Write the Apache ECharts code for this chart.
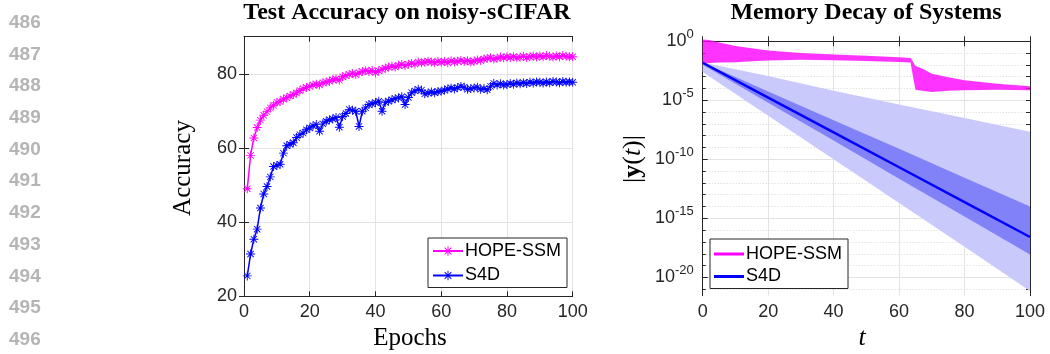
<!DOCTYPE html>
<html><head><meta charset="utf-8">
<script src="https://cdn.jsdelivr.net/npm/echarts@6/dist/echarts.min.js"></script>
<style>html,body{margin:0;padding:0;background:#fff}#c{width:1050px;height:354px}</style>
</head><body><div id="c"></div>
<script>
// ---------- data ----------
const epochs = Array.from({length: 100}, (_, i) => i + 1);
const hopeAcc = [49.0,58.0,62.7,65.5,67.5,68.8,69.8,70.8,71.5,72.3,
72.5,73.2,73.5,74.0,74.4,74.8,75.5,76.0,76.3,76.6,
77.0,77.2,77.0,77.6,77.8,78.0,78.4,78.6,78.3,79.2,
79.5,79.8,80.1,79.8,80.3,80.6,80.8,80.6,80.9,80.3,
80.8,81.2,81.5,81.8,82.0,81.8,82.3,82.5,82.2,82.6,
82.8,82.6,83.2,83.0,83.1,83.4,83.2,83.0,83.3,83.1,
83.3,83.0,83.5,83.2,83.4,83.6,83.3,83.5,83.2,83.4,
83.7,83.6,84.0,84.1,84.3,84.0,84.2,84.5,84.3,84.6,
84.4,84.6,84.3,84.5,84.7,84.4,84.6,84.8,84.5,84.8,
84.6,84.9,84.7,84.5,84.8,84.6,84.9,84.7,84.6,84.6];
const s4dAcc = [25.5,31.4,35.4,38.1,43.8,47.6,49.6,52.2,55.0,55.3,
55.6,58.6,60.6,61.0,61.4,62.8,63.6,64.0,64.9,65.4,
66.0,66.3,64.5,66.5,67.2,67.6,67.8,68.2,65.6,68.5,
69.3,70.4,70.2,69.9,65.8,69.9,70.8,71.7,71.9,72.2,
72.6,69.9,72.3,72.6,73.0,73.3,73.5,73.8,71.7,73.6,
74.9,75.4,75.8,75.6,74.6,74.8,75.1,74.9,75.2,75.3,
75.6,75.9,76.2,75.9,76.3,76.6,76.4,75.8,76.0,76.2,
76.4,75.8,76.0,75.7,76.6,77.4,77.0,77.3,77.0,77.1,
77.4,77.2,77.5,77.3,77.6,77.4,77.7,77.5,77.8,77.7,
77.5,77.8,77.6,77.9,77.8,77.6,77.9,77.7,77.8,77.7];
const accTicks = [20, 40, 60, 80];

// memory decay, values are log10 |y(t)|
const decayT = [0, 20, 40, 60, 80, 100];
const s4dLog = [-1.82, -4.77, -7.72, -10.67, -13.63, -16.58];
const s4dLightUpper = [-1.8, -2.95, -4.2, -5.35, -6.5, -7.67];
const s4dLightLower = [-2.6, -6.3, -10.0, -13.7, -17.4, -21.16];
const s4dDarkUpper = [-1.8, -4.25, -6.7, -9.1, -11.55, -14.0];
const s4dDarkLower = [-2.0, -5.2, -8.4, -11.65, -14.85, -18.07];
const hopeT = [0, 2, 5, 10, 15, 20, 30, 40, 50, 60, 63.5, 64, 65, 67, 70, 75, 80, 90, 100];
const hopeUpper = [0.15, 0.1, -0.1, -0.4, -0.6, -0.78, -1.0, -1.12, -1.22, -1.35, -1.42, -1.6, -2.1, -2.3, -2.75, -3.05, -3.31, -3.59, -3.82];
const hopeLower = [-1.9, -1.85, -1.8, -1.77, -1.7, -1.63, -1.57, -1.6, -1.68, -1.75, -1.8, -2.6, -4.1, -4.2, -4.3, -4.2, -4.16, -4.1, -4.16];
const decayMajorExp = [0, -5, -10, -15, -20];
const decayMinorExp = [-1,-2,-3,-4,-6,-7,-8,-9,-11,-12,-13,-14,-16,-17,-18,-19,-21];
const decayAllExp = [0,-1,-2,-3,-4,-5,-6,-7,-8,-9,-10,-11,-12,-13,-14,-15,-16,-17,-18,-19,-20,-21];
const lineNumbers = ['486','487','488','489','490','491','492','493','494','495','496'];

// ---------- styling ----------
const SANS = "'Liberation Sans', Arial, Helvetica, sans-serif";
const SERIF = "'Liberation Serif', 'Times New Roman', serif";
const AX = '#262626';
const GRIDC = '#e3e3e3';
const MAG = '#ff00ff';
const BLUE = '#0000ff';
const STAR = 'path://M0 9L20 9L20 11L0 11Z M9 0L11 0L11 20L9 20Z M2.3 3.7L3.7 2.3L17.7 16.3L16.3 17.7Z M2.3 16.3L16.3 2.3L17.7 3.7L3.7 17.7Z';

const pairs = (xs, ys) => xs.map((x, i) => [x, ys[i]]);

function bandSeries(name, xs, lo, up, color, opacity, z) {
  return {
    name: name, type: 'custom', coordinateSystem: 'cartesian2d', xAxisIndex: 2, yAxisIndex: 2,
    data: xs.map((x, i) => [x, lo[i], up[i]]), encode: {x: 0, y: [1, 2]}, silent: true, z: z, clip: true,
    renderItem: function (params, api) {
      if (params.dataIndex !== 0) return null;
      const pts = [];
      for (let i = 0; i < xs.length; i++) pts.push(api.coord([xs[i], up[i]]));
      for (let i = xs.length - 1; i >= 0; i--) pts.push(api.coord([xs[i], lo[i]]));
      return {type: 'polygon', shape: {points: pts}, style: {fill: color, opacity: opacity}};
    }
  };
}

const axisLineStyle = {lineStyle: {color: AX, width: 1}};
const tickIn = {inside: true, length: 5, lineStyle: {color: AX}};
const labelStyle = {color: AX, fontSize: 18, fontFamily: SANS};

const graphics = [];
lineNumbers.forEach((t, i) => graphics.push({type: 'text', x: 9, y: 22.7 + 31.7 * i,
  style: {text: t, font: 'bold 19px ' + SANS, fill: '#b5b5b5', textVerticalAlign: 'middle'}}));
graphics.push(
  {type: 'text', x: 407, y: 13, style: {text: 'Test Accuracy on noisy-sCIFAR', font: 'bold 24px ' + SERIF, fill: '#000', textAlign: 'center', textVerticalAlign: 'middle'}},
  {type: 'text', x: 866, y: 13, style: {text: 'Memory Decay of Systems', font: 'bold 24px ' + SERIF, fill: '#000', textAlign: 'center', textVerticalAlign: 'middle'}},
  {type: 'text', x: 183, y: 168, rotation: Math.PI / 2, style: {text: 'Accuracy', font: '25px ' + SERIF, fill: '#000', textAlign: 'center', textVerticalAlign: 'middle'}},
  {type: 'text', x: 410, y: 338, style: {text: 'Epochs', font: '25px ' + SERIF, fill: '#000', textAlign: 'center', textVerticalAlign: 'middle'}},
  {type: 'text', x: 862, y: 338, style: {text: 't', font: 'italic 26px ' + SERIF, fill: '#000', textAlign: 'center', textVerticalAlign: 'middle'}},
  {type: 'text', x: 633, y: 159, rotation: Math.PI / 2, style: {
    text: '{n||}{b|y}{n|(}{i|t}{n|)|}', textAlign: 'center', textVerticalAlign: 'middle',
    rich: {n: {font: '26px ' + SERIF, fill: '#000'}, b: {font: 'bold 26px ' + SERIF, fill: '#000'}, i: {font: 'italic 26px ' + SERIF, fill: '#000'}}}}
);

const legendText = {fontSize: 18, fontFamily: SANS, color: '#000', lineHeight: 18, padding: [0, 0, 0, -3]};

const option = {
  animation: false,
  backgroundColor: '#fff',
  grid: [
    {left: 244, right: 1050 - 572.7, top: 36.7, bottom: 354 - 296.3},
    {left: 702.7, right: 1050 - 1030, top: 38.3, bottom: 354 - 295.7}
  ],
  legend: [
    {data: ['HOPE-SSM', 'S4D'], orient: 'vertical', left: 428, top: 238, padding: [4, 6, 3, 4],
     itemGap: 6.5, itemWidth: 30, itemHeight: 12, backgroundColor: '#fff', borderColor: AX, borderWidth: 1,
     borderRadius: 0, textStyle: legendText, selectedMode: false},
    {data: [{name: 'HOPE-SSM', icon: 'rect'}, {name: 'S4D', icon: 'rect'}], orient: 'vertical', left: 710, top: 239,
     padding: [6, 6, 3, 4], itemGap: 4.5, itemWidth: 30, itemHeight: 3, backgroundColor: '#fff', borderColor: AX, borderWidth: 1,
     borderRadius: 0, textStyle: legendText, selectedMode: false}
  ],
  xAxis: [
    {gridIndex: 0, type: 'value', min: 0, max: 100, interval: 20, position: 'bottom',
     axisLine: axisLineStyle, axisTick: tickIn, axisLabel: Object.assign({margin: 7}, labelStyle),
     splitLine: {show: true, lineStyle: {color: GRIDC}}},
    {gridIndex: 0, type: 'value', min: 0, max: 100, interval: 20, position: 'top',
     axisLine: axisLineStyle, axisTick: tickIn, axisLabel: {show: false}, splitLine: {show: false}},
    {gridIndex: 1, type: 'value', min: 0, max: 100, interval: 20, position: 'bottom',
     axisLine: axisLineStyle, axisTick: tickIn, axisLabel: Object.assign({margin: 7}, labelStyle),
     splitLine: {show: true, lineStyle: {color: GRIDC}}},
    {gridIndex: 1, type: 'value', min: 0, max: 100, interval: 20, position: 'top',
     axisLine: axisLineStyle, axisTick: tickIn, axisLabel: {show: false}, splitLine: {show: false}}
  ],
  yAxis: [
    {gridIndex: 0, type: 'value', min: 20, max: 90, interval: 20, position: 'left',
     axisLine: Object.assign({show: true}, axisLineStyle), axisTick: Object.assign({show: true, customValues: accTicks}, tickIn),
     axisLabel: Object.assign({margin: 7, customValues: accTicks}, labelStyle),
     splitLine: {show: true, lineStyle: {color: GRIDC}}},
    {gridIndex: 0, type: 'value', min: 20, max: 90, interval: 20, position: 'right',
     axisLine: Object.assign({show: true}, axisLineStyle), axisTick: Object.assign({show: true, customValues: accTicks}, tickIn),
     axisLabel: {show: false}, splitLine: {show: false}},
    {gridIndex: 1, type: 'value', min: -21.55, max: 0.25, position: 'left',
     axisLine: Object.assign({show: true}, axisLineStyle),
     axisTick: Object.assign({show: true, customValues: decayMajorExp}, tickIn),
     axisLabel: {customValues: decayMajorExp, margin: 9, color: AX,
       formatter: v => '{a|10}{b|' + Math.round(v) + '}',
       rich: {a: {fontSize: 18, fontFamily: SANS, color: AX}, b: {fontSize: 13, fontFamily: SANS, color: AX, padding: [0, 0, 14, 0]}}},
     splitLine: {show: true, lineStyle: {color: GRIDC}}},
    {gridIndex: 1, type: 'value', min: -21.55, max: 0.25, position: 'left',
     axisLine: {show: false}, axisTick: {show: true, inside: true, length: 3, customValues: decayMinorExp, lineStyle: {color: AX}},
     axisLabel: {show: false},
     splitLine: {show: true, lineStyle: {color: '#d6d6d6', type: [1, 2]}}},
    {gridIndex: 1, type: 'value', min: -21.55, max: 0.25, position: 'right',
     axisLine: Object.assign({show: true}, axisLineStyle),
     axisTick: {show: true, inside: true, length: 4, customValues: decayAllExp, lineStyle: {color: AX}},
     axisLabel: {show: false}, splitLine: {show: false}}
  ],
  graphic: graphics,
  series: [
    {name: 'HOPE-SSM', type: 'line', xAxisIndex: 0, yAxisIndex: 0, data: pairs(epochs, hopeAcc),
     symbol: STAR, symbolSize: 9, showAllSymbol: true, itemStyle: {color: MAG}, lineStyle: {color: MAG, width: 1.5}, z: 3},
    {name: 'S4D', type: 'line', xAxisIndex: 0, yAxisIndex: 0, data: pairs(epochs, s4dAcc),
     symbol: STAR, symbolSize: 9, showAllSymbol: true, itemStyle: {color: BLUE}, lineStyle: {color: BLUE, width: 1.5}, z: 3},
    bandSeries('S4D light band', decayT, s4dLightLower, s4dLightUpper, '#c9c9fb', 1, 2),
    bandSeries('S4D dark band', decayT, s4dDarkLower, s4dDarkUpper, '#8282f8', 1, 2),
    bandSeries('HOPE-SSM band', hopeT, hopeLower, hopeUpper, MAG, 0.8, 3),
    {name: 'S4D', type: 'line', xAxisIndex: 2, yAxisIndex: 2, data: pairs(decayT, s4dLog),
     symbol: 'none', itemStyle: {color: BLUE}, lineStyle: {color: BLUE, width: 2.5}, z: 4}
  ]
};
const chart = echarts.init(document.getElementById('c'), null, {renderer: 'canvas'});
chart.setOption(option);
</script>
</body></html>
